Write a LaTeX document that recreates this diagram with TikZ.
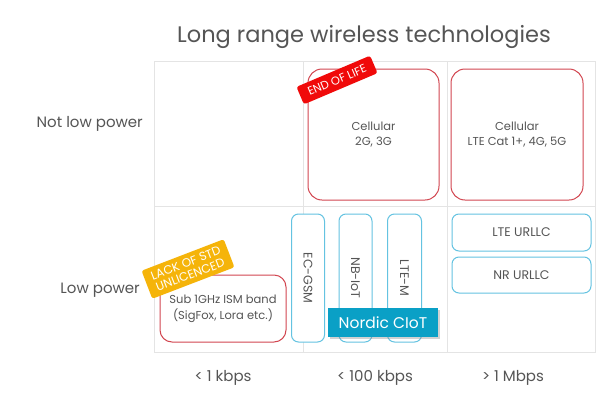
\documentclass[tikz,border=0pt]{standalone}
\usepackage{fontspec}
\setmainfont{Poppins}
\usetikzlibrary{shadows}
\definecolor{txt}{RGB}{85,85,85}
\definecolor{gridc}{RGB}{228,228,228}
\definecolor{redb}{RGB}{210,70,80}
\definecolor{blueb}{RGB}{100,195,225}
\definecolor{teal}{RGB}{10,160,198}
\definecolor{tagred}{RGB}{240,10,10}
\definecolor{tagorange}{RGB}{245,180,10}
\tikzset{
  gridline/.style={draw=gridc, line width=0.8pt},
  redbox/.style={draw=redb, line width=1pt, rounded corners=14pt, align=center, text=txt, font=\fontsize{11.5}{15}\selectfont, inner sep=0pt},
  bluebox/.style={draw=blueb, line width=1pt, rounded corners=7pt, align=center, text=txt, font=\fontsize{12.5}{14}\selectfont, inner sep=0pt, fill=white},
  tagbox/.style={rounded corners=2.5pt, text=white, align=center, inner sep=0pt},
  axislabel/.style={text=txt, font=\fontsize{15}{17}\selectfont, inner sep=0pt}
}
\begin{document}
\begin{tikzpicture}[x=1pt,y=-1pt]
\useasboundingbox (0,0) rectangle (600,410);
\fill[white] (0,0) rectangle (600,410);
% title
\node[text=txt, font=\fontsize{22.5}{26}\selectfont] (title) at (364,37) {Long range wireless technologies};
% grid
\draw[gridline] (154,61) rectangle (595,352);
\draw[gridline] (303,61) -- (303,352);
\draw[gridline] (447,61) -- (447,352);
\draw[gridline] (154,206) -- (595,206);
% axis labels
\node[axislabel, anchor=east] (notlow) at (143,124) {Not low power};
\node[axislabel, anchor=east] (low) at (140,290) {Low power};
\node[axislabel] (r1) at (223,378) {< 1 kbps};
\node[axislabel] (r2) at (375,378) {< 100 kbps};
\node[axislabel] (r3) at (513,378) {> 1 Mbps};
% top row
\node[redbox, minimum width=131, minimum height=131] (cell23) at (373.5,134.5) {Cellular\\2G, 3G};
\node[redbox, minimum width=132, minimum height=131] (cell45) at (517,134.5) {Cellular\\LTE Cat 1+, 4G, 5G};
\node[tagbox, fill=tagred, rotate=23, minimum width=80, minimum height=19, font=\fontsize{11.5}{13}\selectfont] (eol) at (337,80) {END OF LIFE};
% bottom row
\node[redbox, rounded corners=12pt, minimum width=126, minimum height=67, font=\fontsize{11.5}{16}\selectfont] (sub) at (223,308.5) {Sub 1GHz ISM band\\(SigFox, Lora etc.)};
\node[tagbox, fill=tagorange, rotate=21, minimum width=88, minimum height=30, font=\fontsize{12}{12.5}\selectfont] (lack) at (188,269) {LACK OF STD\\UNLICENCED};
\node[bluebox, rotate=-90, minimum width=128, minimum height=33] (ecgsm) at (308,278) {EC-GSM};
\node[bluebox, rotate=-90, minimum width=128, minimum height=33] (nbiot) at (355.5,278) {NB-IoT};
\node[bluebox, rotate=-90, minimum width=128, minimum height=34] (ltem) at (404.5,278) {LTE-M};
\node[fill=teal, text=white, minimum width=110, minimum height=29, inner sep=0pt, font=\fontsize{15.5}{17}\selectfont, drop shadow={shadow xshift=1.5pt, shadow yshift=-1.5pt, opacity=0.35}] (nordic) at (383,322.5) {Nordic CIoT};
\node[bluebox, minimum width=139, minimum height=37] (lteurllc) at (521.5,232.5) {LTE URLLC};
\node[bluebox, minimum width=139, minimum height=36] (nrurllc) at (521.5,275) {NR URLLC};
\end{tikzpicture}
\end{document}
